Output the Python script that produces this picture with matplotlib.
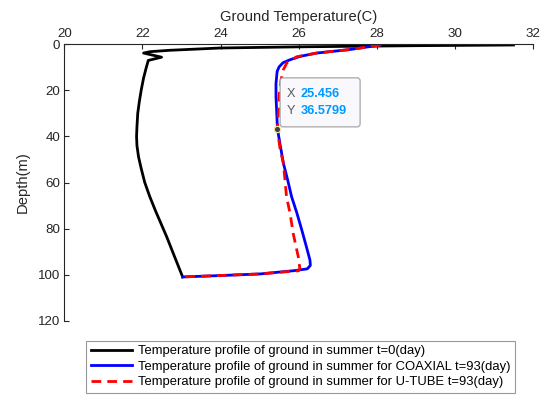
"""Ground temperature profile vs depth, summer (t=0 and t=93 days)."""
import numpy as np
import matplotlib
matplotlib.use("Agg")
import matplotlib.pyplot as plt
from matplotlib.patches import FancyBboxPatch

plt.rcParams["font.family"] = ["Liberation Sans", "DejaVu Sans"]

# t = 0 (day)
temp_t0 = [31.5, 29.0, 26.0, 24.0, 22.7, 22.2, 22.03, 22.49, 22.15, 22.1,
           22.03, 21.97, 21.92, 21.88, 21.86, 21.85, 21.86, 21.9, 21.97,
           22.06, 22.19, 22.34, 22.48, 22.62, 22.76, 23.03]
depth_t0 = [0.3, 0.6, 1.1, 1.6, 2.6, 3.2, 3.8, 5.6, 7.0, 10.0,
            14.6, 19.8, 25.0, 30.0, 35.8, 40.0, 44.0, 48.8, 54.0,
            60.0, 66.2, 72.5, 78.0, 83.5, 89.5, 101.0]

# COAXIAL, t = 93 (day)
temp_coax = [28.1, 27.3, 26.46, 26.05, 25.78, 25.6, 25.5, 25.45, 25.42,
             25.42, 25.44, 25.456, 25.53, 25.61, 25.72, 25.82, 25.95, 26.08,
             26.2, 26.29, 26.3, 26.22, 25.87, 25.01, 24.0, 23.03]
depth_coax = [0.3, 2.3, 3.8, 5.2, 6.7, 8.0, 9.8, 11.7, 17.0,
              22.7, 30.0, 36.58, 44.0, 51.7, 59.0, 66.2, 73.0, 80.6,
              88.0, 93.7, 96.0, 97.5, 98.3, 99.7, 100.4, 101.0]

# U-TUBE, t = 93 (day)
temp_utube = [28.1, 27.3, 26.46, 25.95, 25.7, 25.61, 25.55, 25.5, 25.48,
              25.456, 25.52, 25.61, 25.69, 25.78, 25.86, 25.99, 26.03, 26.0,
              25.01, 23.03]
depth_utube = [0.3, 2.3, 3.8, 5.4, 8.0, 11.0, 15.5, 22.0, 30.0,
               36.58, 45.0, 51.7, 66.2, 73.4, 82.1, 92.2, 97.3, 98.3,
               99.7, 101.0]

tip_x, tip_y = 25.456, 36.5799

labels = [
    "Temperature profile of ground in summer t=0(day)",
    "Temperature profile of ground in summer for COAXIAL t=93(day)",
    "Temperature profile of ground in summer for U-TUBE t=93(day)",
]

AX_COLOR = "#262626"

fig = plt.figure(figsize=(5.51, 4.01), dpi=100)
ax = fig.add_axes([64.3 / 551, 1 - 320.7 / 401,
                   (533 - 64.3) / 551, (320.7 - 44.3) / 401])

ax.plot(temp_t0, depth_t0, color="black", lw=2, label=labels[0],
        solid_joinstyle="round")
ax.plot(temp_coax, depth_coax, color="#0000ff", lw=2, label=labels[1],
        solid_joinstyle="round")
ax.plot(temp_utube, depth_utube, color="#ff0000", lw=2,
        ls=(0, (3.5, 2.2)), label=labels[2])

ax.set_xlim(20, 32)
ax.set_ylim(120, 0)
ax.set_xticks(np.arange(20, 33, 2))
ax.set_yticks(np.arange(0, 121, 20))
ax.xaxis.tick_top()
ax.xaxis.set_label_position("top")
ax.spines["right"].set_visible(False)
ax.spines["bottom"].set_visible(False)
for s in ("top", "left"):
    ax.spines[s].set_color(AX_COLOR)
    ax.spines[s].set_linewidth(0.8)
ax.tick_params(direction="in", length=3.6, width=0.8, colors=AX_COLOR,
               labelsize=9.6, pad=3)
ax.set_xlabel("Ground Temperature(C)", fontsize=10.6, color=AX_COLOR,
              labelpad=5)
ax.set_ylabel("Depth(m)", fontsize=10.6, color=AX_COLOR, labelpad=6)

# data tip (box laid out in pixels relative to the marked point)
ax.plot([tip_x], [tip_y], "o", ms=4.5, mfc="#404040", mec="#f0e6b0",
        mew=0.8, zorder=6)
fig.canvas.draw()
x0, y0 = ax.transData.transform((tip_x, tip_y))
box = FancyBboxPatch((x0 + 2.7, y0 + 1.7), 80, 49,
                     boxstyle="round,pad=0,rounding_size=3",
                     transform=None, facecolor="#f9f9fd",
                     edgecolor="#a6a6a6", lw=0.9, zorder=7)
fig.patches.append(box)
for dy, key, val in [(34.7, "X", f"{tip_x:.3f}"), (17.3, "Y", f"{tip_y:.4f}")]:
    fig.text(x0 + 9.4, y0 + dy, key, transform=None, fontsize=9.2,
             color="#595959", va="center", ha="left", zorder=8)
    fig.text(x0 + 23.4, y0 + dy, val, transform=None, fontsize=9.2,
             color="#0099ff", fontweight="bold", va="center", ha="left",
             zorder=8)

leg = fig.legend(loc="upper left", bbox_to_anchor=(86 / 551, 1 - 340.7 / 401),
                 fontsize=9.4, handlelength=3.2, handletextpad=0.4,
                 labelspacing=0.25, borderpad=0.35, borderaxespad=0,
                 frameon=True, fancybox=False)
leg.get_frame().set_edgecolor("#808080")
leg.get_frame().set_linewidth(0.8)

fig.savefig("out.png", dpi=100)
